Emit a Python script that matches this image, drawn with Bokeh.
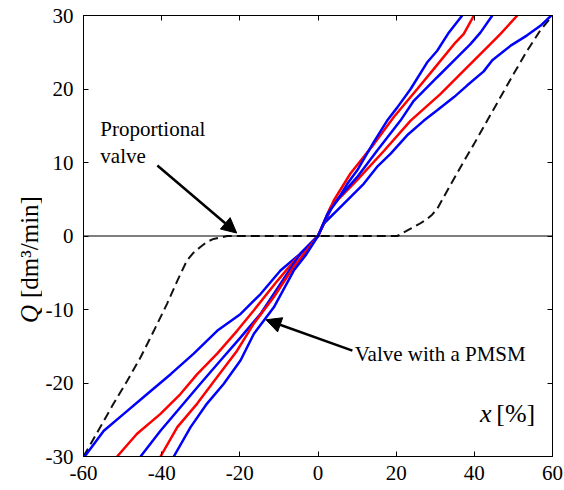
import math
from bokeh.plotting import figure
from bokeh.layouts import row
from bokeh.models import LinearAxis, FixedTicker, Label, Arrow, NormalHead, Span
from bokeh.embed import file_html
from bokeh.resources import INLINE

# ---- data ----
x_ticks = [-60, -40, -20, 0, 20, 40, 60]
y_ticks = [-30, -20, -10, 0, 10, 20, 30]

# PMSM valve characteristics (5 curves)
a_x = [-36.9, -32.6, -28.4, -24.1, -19.8, -16.4, -11.3, -6.2, -3.0, 0.0, 2.4, 4.9, 7.5, 10.0, 14.3, 17.7, 20.3, 23.7, 27.9, 30.5, 33.5, 36.9]
a_y = [-30.0, -26.0, -22.8, -20.1, -16.9, -13.3, -9.7, -4.7, -2.5, 0.0, 3.0, 4.8, 7.1, 8.9, 12.8, 15.7, 17.5, 20.0, 23.6, 25.2, 27.7, 30.0]

b_x = [-40.3, -36.0, -30.9, -25.8, -20.7, -16.4, -11.3, -6.2, 0.0, 4.0, 8.3, 14.3, 19.4, 25.4, 29.6, 34.8, 37.3, 39.9]
b_y = [-30.0, -26.0, -22.8, -19.2, -15.6, -11.9, -8.3, -4.2, 0.0, 4.8, 8.5, 12.5, 16.2, 20.0, 22.7, 26.1, 27.5, 30.0]

c_x = [-45.4, -40.3, -35.2, -30.1, -24.9, -19.8, -14.7, -9.6, -4.5, 0.0, 4.0, 10.0, 15.1, 21.1, 24.5, 30.5, 35.6, 39.0, 41.6, 44.6]
c_y = [-30.0, -26.5, -23.3, -20.1, -16.9, -13.8, -10.6, -6.5, -2.4, 0.0, 4.4, 8.0, 11.6, 15.7, 18.4, 21.6, 24.3, 26.1, 27.7, 30.0]

d_x = [-51.4, -46.3, -40.3, -35.2, -30.9, -25.8, -20.7, -16.4, -10.4, -5.3, 0.0, 3.2, 10.0, 16.9, 23.7, 31.3, 37.3, 44.1, 46.7, 51.0]
d_y = [-30.0, -26.9, -24.2, -21.5, -18.8, -16.0, -12.9, -10.1, -6.1, -2.9, 0.0, 3.9, 7.6, 11.6, 15.7, 19.3, 22.5, 26.1, 27.5, 30.0]

e_x = [-59.7, -54.8, -49.7, -43.7, -37.7, -31.8, -25.8, -19.8, -14.7, -9.6, -4.5, 0.0, 1.5, 4.9, 8.3, 11.7, 15.1, 18.6, 22.8, 27.1, 30.5, 34.8, 38.2, 42.4, 44.6, 49.3, 53.5, 56.9, 59.7]
e_y = [-30.0, -26.5, -24.2, -21.5, -18.8, -16.0, -12.9, -10.6, -7.9, -4.7, -2.4, 0.0, 1.7, 3.5, 5.3, 7.1, 9.4, 11.2, 13.7, 15.7, 17.1, 18.9, 20.5, 22.4, 23.9, 25.9, 27.3, 28.6, 30.0]

# proportional valve (dashed)
p_x = [-60.0, -55.7, -52.3, -48.8, -45.4, -42.0, -38.6, -36.0, -33.5, -31.9, -30.1, -28.4, -26.7, -23.2, -20.0, 0.0, 20.3, 23.7, 25.8, 27.9, 29.2, 30.5, 33.1, 36.5, 39.9, 43.3, 46.7, 50.1, 53.5, 56.9, 60.0]
p_y = [-30.0, -26.0, -22.8, -19.7, -16.5, -12.9, -9.2, -6.1, -3.3, -2.3, -1.5, -0.8, -0.4, 0.0, 0.0, 0.0, 0.0, 1.0, 1.6, 2.3, 2.9, 3.7, 6.2, 9.4, 12.5, 15.7, 18.9, 22.1, 25.2, 28.0, 30.0]

curves = [(e_x, e_y, "#0000FF"), (d_x, d_y, "#FF0000"), (c_x, c_y, "#0000FF"),
          (b_x, b_y, "#FF0000"), (a_x, a_y, "#0000FF")]

FONT = "Liberation Serif, serif"

LEFT_W = 42
BT, BB = 15, 34
p = figure(frame_width=469, frame_height=441, x_range=(-60, 60), y_range=(-30, 30),
           output_backend="svg", toolbar_location=None,
           min_border_left=83 - LEFT_W, min_border_right=12, min_border_top=BT, min_border_bottom=BB,
           x_axis_location=None, y_axis_location=None)
p.grid.visible = False
p.outline_line_color = "black"
p.outline_line_width = 1
p.background_fill_color = "white"
p.border_fill_color = "white"

def style_axis(ax, ticks, labels=True):
    ax.ticker = FixedTicker(ticks=ticks)
    ax.axis_line_color = "black"
    ax.axis_line_width = 1
    ax.major_tick_in = 5
    ax.major_tick_out = 0
    ax.minor_tick_line_color = None
    ax.major_tick_line_color = "black"
    ax.major_label_text_font = FONT
    ax.major_label_text_font_size = "21px"
    ax.major_label_text_color = "black"
    if labels:
        ax.major_label_overrides = {t: str(t) for t in ticks}
    else:
        ax.major_label_overrides = {t: "" for t in ticks}
        ax.major_label_standoff = 0
        ax.axis_label_standoff = 0

xb = LinearAxis(); style_axis(xb, x_ticks); xb.major_label_standoff = 9
yl = LinearAxis(); style_axis(yl, y_ticks); yl.major_label_standoff = 10
xt = LinearAxis(); style_axis(xt, x_ticks, labels=False)
yr = LinearAxis(); style_axis(yr, y_ticks, labels=False)
p.add_layout(xb, "below")
p.add_layout(yl, "left")
p.add_layout(xt, "above")
p.add_layout(yr, "right")

# zero line
p.add_layout(Span(location=0, dimension="width", line_color="black", line_width=1.2))

# proportional valve dashed
p.line(p_x, p_y, line_color="#111111", line_width=2, line_dash="9 5")

for cx, cy, col in curves:
    p.line(cx, cy, line_color=col, line_width=2.5)

# annotations
p.add_layout(Label(x=-55.7, y=14.6, text="Proportional", text_font=FONT, text_font_size="21px",
                   text_baseline="middle", text_color="black"))
p.add_layout(Label(x=-55.7, y=10.9, text="valve", text_font=FONT, text_font_size="21px",
                   text_baseline="middle", text_color="black"))
p.add_layout(Label(x=9.4, y=-16.0, text="Valve with a PMSM", text_font=FONT, text_font_size="21px",
                   text_baseline="middle", text_color="black"))

p.add_layout(Arrow(end=NormalHead(size=15, fill_color="black", line_color="black"),
                   x_start=-41.1, y_start=9.6, x_end=-20.8, y_end=0.4,
                   line_color="black", line_width=2.5))
p.add_layout(Arrow(end=NormalHead(size=15, fill_color="black", line_color="black"),
                   x_start=8.8, y_start=-15.6, x_end=-13.3, y_end=-11.4,
                   line_color="black", line_width=2.5))

# x axis label inside plot
p.add_layout(Label(x=42.9, y=-24.2, text="x", text_font=FONT, text_font_size="26px",
                   text_font_style="italic", text_align="center", text_baseline="middle",
                   text_color="black"))
p.add_layout(Label(x=45.6, y=-24.2, text="[%]", text_font=FONT, text_font_size="26px",
                   text_baseline="middle", text_color="black"))

# y axis label in a narrow side panel sharing the vertical scale of the plot
lab = figure(frame_width=LEFT_W, frame_height=441, x_range=(0, LEFT_W), y_range=p.y_range,
             output_backend="svg", toolbar_location=None, min_border_left=0, min_border_right=0,
             min_border_top=BT, min_border_bottom=BB,
             x_axis_location=None, y_axis_location=None, outline_line_color=None)
lab.grid.visible = False
lab.add_layout(Label(x=29, y=-1.5, text="[dm³/min]", text_font=FONT, text_font_size="25px",
                     angle=math.pi / 2, text_align="center", text_baseline="middle",
                     text_color="black"))
lab.add_layout(Label(x=29, y=-10.6, text="Q", text_font=FONT, text_font_size="25px",
                     text_font_style="italic", angle=math.pi / 2, text_align="center",
                     text_baseline="middle", text_color="black"))

layout = row(lab, p)
open("out.html", "w").write(file_html(layout, INLINE))
